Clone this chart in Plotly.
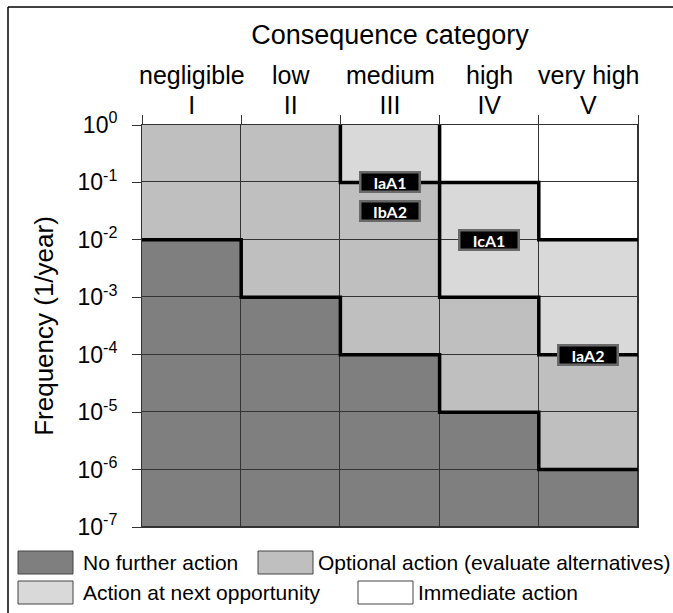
import numpy as np
import plotly.graph_objects as go

# ---------------- data ----------------
categories = ["negligible", "low", "medium", "high", "very high"]
numerals = ["I", "II", "III", "IV", "V"]
freq_exponents = [0, -1, -2, -3, -4, -5, -6, -7]
freq_ticklabels = ["10<sup>0</sup>", "10<sup>-1</sup>", "10<sup>-2</sup>", "10<sup>-3</sup>",
                   "10<sup>-4</sup>", "10<sup>-5</sup>", "10<sup>-6</sup>", "10<sup>-7</sup>"]
# action level per cell, rows from top (10^0..10^-1) to bottom (10^-6..10^-7)
# 0 = no further action, 1 = optional, 2 = next opportunity, 3 = immediate
levels = [
    [1, 1, 2, 3, 3],
    [1, 1, 1, 2, 3],
    [0, 1, 1, 2, 2],
    [0, 0, 1, 1, 2],
    [0, 0, 0, 1, 1],
    [0, 0, 0, 0, 1],
    [0, 0, 0, 0, 0],
]
legend_labels = ["No further action", "Optional action (evaluate alternatives)",
                 "Action at next opportunity", "Immediate action"]
level_colors = ["#7f7f7f", "#bfbfbf", "#d9d9d9", "#ffffff"]

risk_labels = ["IaA1", "IbA2", "IcA1", "IaA2"]
risk_category = [2, 2, 3, 4]          # column index
risk_freq = [1e-1, 3.16e-2, 1e-2, 1e-4]

# ---------------- layout helpers ----------------
W, H = 673, 613
L, R, T, B = 142, 638, 125, 527
def px(x):
    return (x - L) / (R - L)
def py(y):
    return (B - y) / (B - T)

FONT = "Liberation Sans, Arial, sans-serif"

fig = go.Figure()

# cells
z = levels[::-1]
y_edges = [10.0 ** e for e in freq_exponents[::-1]]
fig.add_trace(go.Heatmap(
    z=z, x=list(range(len(categories) + 1)), y=y_edges,
    zmin=0, zmax=3,
    colorscale=[[0, level_colors[0]], [1/3, level_colors[1]], [2/3, level_colors[2]], [1, level_colors[3]]],
    showscale=False, xgap=1, ygap=1, hoverinfo="skip",
))

# thick boundaries between different action levels
nrow, ncol = len(levels), len(levels[0])
segs = []
for r in range(nrow):
    for c in range(ncol):
        if c + 1 < ncol and levels[r][c] != levels[r][c + 1]:
            segs.append(((c + 1, freq_exponents[r]), (c + 1, freq_exponents[r + 1])))
        if r + 1 < nrow and levels[r][c] != levels[r + 1][c]:
            segs.append(((c, freq_exponents[r + 1]), (c + 1, freq_exponents[r + 1])))

# chain segments into polylines
unused = list(segs)
polylines = []
while unused:
    a, b = unused.pop(0)
    line = [a, b]
    extended = True
    while extended:
        extended = False
        for s in list(unused):
            if s[0] == line[-1]:
                line.append(s[1]); unused.remove(s); extended = True
            elif s[1] == line[-1]:
                line.append(s[0]); unused.remove(s); extended = True
            elif s[1] == line[0]:
                line.insert(0, s[0]); unused.remove(s); extended = True
            elif s[0] == line[0]:
                line.insert(0, s[1]); unused.remove(s); extended = True
    polylines.append(line)

lx, ly = [], []
for pl in polylines:
    for (x, e) in pl:
        lx.append(x); ly.append(10.0 ** e)
    lx.append(None); ly.append(None)
fig.add_trace(go.Scatter(x=lx, y=ly, mode="lines", line=dict(color="black", width=3.5),
                         hoverinfo="skip", showlegend=False))

annotations = []
# category names above the numerals
for i, c in enumerate(categories):
    annotations.append(dict(x=i + 0.5, y=py(75), xref="x", yref="paper", text=c,
                            showarrow=False, xanchor="center", yanchor="middle",
                            font=dict(family=FONT, size=25, color="black")))

# risk labels
for lab, c, f in zip(risk_labels, risk_category, risk_freq):
    annotations.append(dict(
        x=c + 0.5, y=np.log10(f), xref="x", yref="y", text="<b>%s</b>" % lab,
        showarrow=False, font=dict(family="Lato, Open Sans, sans-serif", size=16, color="white"),
        bgcolor="black", bordercolor="#6a6a6a", borderwidth=2.5, borderpad=0,
        width=57, height=17,
    ))

# legend (manual)
legend_swatch_x = [18, 258, 18, 358]
legend_text_x = [81, 316, 81, 416]
legend_row_y = [(551, 574), (581, 604)]
legend_row = [0, 0, 1, 1]
shapes = []
for i, lab in enumerate(legend_labels):
    y0, y1 = legend_row_y[legend_row[i]]
    shapes.append(dict(type="rect", xref="paper", yref="paper",
                       x0=px(legend_swatch_x[i]), x1=px(legend_swatch_x[i] + 55),
                       y0=py(y1), y1=py(y0),
                       fillcolor=level_colors[i], line=dict(color="#444444", width=1)))
    annotations.append(dict(x=px(legend_text_x[i]), y=py((y0 + y1) / 2), xref="paper", yref="paper",
                            text=lab, showarrow=False, xanchor="left", yanchor="middle",
                            font=dict(family=FONT, size=21, color="black")))

# outer frame (top and left edges)
shapes.append(dict(type="line", xref="paper", yref="paper",
                   x0=px(8), x1=px(8), y0=py(613), y1=py(7), line=dict(color="black", width=1.5)))
shapes.append(dict(type="line", xref="paper", yref="paper",
                   x0=px(8), x1=px(673), y0=py(7), y1=py(7), line=dict(color="black", width=1.5)))

fig.update_layout(
    width=W, height=H,
    margin=dict(l=L, r=W - R, t=T, b=H - B),
    paper_bgcolor="white", plot_bgcolor="#333333",
    font=dict(family=FONT, color="black"),
    showlegend=False,
    annotations=annotations, shapes=shapes,
    xaxis=dict(
        range=[0, len(categories)], side="top",
        tickmode="array", tickvals=[i + 0.5 for i in range(len(categories))],
        ticktext=numerals,
        tickfont=dict(size=25), ticks="",
        minor=dict(tickmode="array", tickvals=list(range(len(categories) + 1)),
                   ticks="outside", ticklen=9, tickcolor="#333333", showgrid=False),
        showgrid=False, zeroline=False, showline=True, mirror=True, linecolor="#333333", linewidth=1,
        title=dict(text="Consequence category", font=dict(size=27), standoff=38),
        fixedrange=True,
    ),
    yaxis=dict(
        type="log", range=[-7, 0],
        tickmode="array", tickvals=[10.0 ** e for e in freq_exponents], ticktext=freq_ticklabels,
        tickfont=dict(size=23), ticks="outside", ticklen=9, tickcolor="#333333",
        ticklabelstandoff=10,
        showgrid=False, zeroline=False, showline=True, mirror=True, linecolor="#333333", linewidth=1,
        title=dict(text="Frequency (1/year)", font=dict(size=26), standoff=16),
        fixedrange=True,
    ),
)

fig.write_html("out.html", post_script="document.body.style.margin='0';",
               config={"displayModeBar": False, "staticPlot": True})
